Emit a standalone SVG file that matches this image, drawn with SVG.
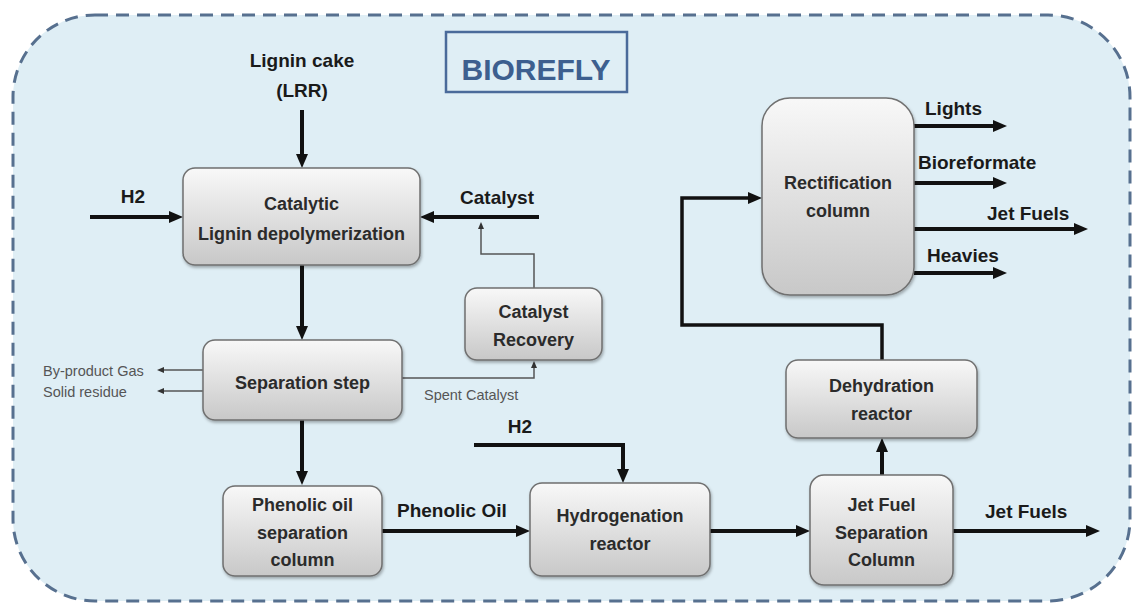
<svg xmlns="http://www.w3.org/2000/svg" width="1133" height="607" viewBox="0 0 1133 607">
  <defs>
    <linearGradient id="boxGrad" x1="0" y1="0" x2="0" y2="1">
      <stop offset="0" stop-color="#f8f8f8"/>
      <stop offset="1" stop-color="#c8c8c8"/>
    </linearGradient>
    <filter id="shadow" x="-10%" y="-10%" width="120%" height="130%">
      <feDropShadow dx="1" dy="2" stdDeviation="1.5" flood-color="#000" flood-opacity="0.3"/>
    </filter>
    <marker id="arrowThick" viewBox="0 0 14 12" markerUnits="userSpaceOnUse" markerWidth="14" markerHeight="12" refX="6" refY="6" orient="auto">
      <path d="M0,0 L14,6 L0,12 z" fill="#111"/>
    </marker>
    <marker id="arrowThin" viewBox="0 0 7 6" markerUnits="userSpaceOnUse" markerWidth="7" markerHeight="6" refX="3" refY="3" orient="auto">
      <path d="M0,0 L7,3 L0,6 z" fill="#333"/>
    </marker>
  </defs>
  <style>
    .box { fill: url(#boxGrad); stroke: #6f6f6f; stroke-width: 1.5; filter: url(#shadow); }
    .btxt { font-family: "Liberation Sans", Arial, sans-serif; font-weight: bold; font-size: 18px; fill: #2b2b2b; text-anchor: middle; }
    .lbl { font-family: "Liberation Sans", Arial, sans-serif; font-weight: bold; font-size: 19px; fill: #1a1a1a; }
    .small { font-family: "Liberation Sans", Arial, sans-serif; font-size: 14.5px; fill: #555; }
    .thick { fill: none; stroke: #111; stroke-width: 4; marker-end: url(#arrowThick); }
    .loop { fill: none; stroke: #111; stroke-width: 3.5; marker-end: url(#arrowThick); }
    .thin { fill: none; stroke: #555; stroke-width: 1.5; marker-end: url(#arrowThin); }
  </style>

  <rect x="0" y="0" width="1133" height="607" fill="#ffffff"/>
  <rect id="frame" x="13" y="15" width="1117" height="586" rx="82" ry="82" fill="#dfeef5" stroke="#57708f" stroke-width="3" stroke-dasharray="13 8"/>

  <g id="title">
    <rect x="446" y="32" width="181" height="60" fill="none" stroke="#4a6a9a" stroke-width="2.5"/>
    <text x="536" y="80" font-family="'Liberation Sans', Arial, sans-serif" font-weight="bold" font-size="30" fill="#3d5f8f" text-anchor="middle">BIOREFLY</text>
  </g>

  <g id="connectors">
    <path class="thick" d="M302,110 V160"/>
    <path class="thick" d="M90,217 H175"/>
    <path class="thick" d="M539,217 H428"/>
    <path class="thick" d="M302,265 V332"/>
    <path class="thick" d="M302,420 V477"/>
    <path class="thick" d="M382,531 H522"/>
    <path class="thick" d="M474,445 H623 V475"/>
    <path class="thick" d="M710,531 H802"/>
    <path class="thick" d="M953,531 H1092"/>
    <path class="thick" d="M882,475 V446"/>
    <path class="loop" d="M882,360 V325 H682 V198 H754"/>
    <path class="thick" d="M914,126 H999"/>
    <path class="thick" d="M914,183 H999"/>
    <path class="thick" d="M914,229 H1080"/>
    <path class="thick" d="M914,273 H999"/>
    <path class="thin" d="M203,370 H161"/>
    <path class="thin" d="M203,391 H161"/>
    <path class="thin" d="M402,378 H534 V365"/>
    <path class="thin" d="M534,288 V254 H481 V226"/>
  </g>

  <g id="labels">
    <text class="lbl" x="302" y="67" text-anchor="middle" font-size="18">Lignin cake</text>
    <text class="lbl" x="302" y="97" text-anchor="middle" font-size="18">(LRR)</text>
    <text class="lbl" x="133" y="203" text-anchor="middle">H2</text>
    <text class="lbl" x="497" y="204" text-anchor="middle">Catalyst</text>
    <text class="lbl" x="520" y="433" text-anchor="middle">H2</text>
    <text class="lbl" x="397" y="517" font-size="20">Phenolic Oil</text>
    <text class="lbl" x="985" y="518">Jet Fuels</text>
    <text class="lbl" x="925" y="115">Lights</text>
    <text class="lbl" x="918" y="169" font-size="20">Bioreformate</text>
    <text class="lbl" x="987" y="220">Jet Fuels</text>
    <text class="lbl" x="927" y="262">Heavies</text>
    <text class="small" x="43" y="376">By-product Gas</text>
    <text class="small" x="43" y="397">Solid residue</text>
    <text class="small" x="424" y="400" font-size="14" fill="#6a7a82">Spent Catalyst</text>
  </g>

  <g id="catalytic">
    <rect class="box" x="183" y="168" width="237" height="97" rx="12"/>
    <text class="btxt" x="301.5" y="210">Catalytic</text>
    <text class="btxt" x="301.5" y="240">Lignin depolymerization</text>
  </g>

  <g id="separation">
    <rect class="box" x="203" y="340" width="199" height="80" rx="12"/>
    <text class="btxt" x="302.5" y="389">Separation step</text>
  </g>

  <g id="catalyst-recovery">
    <rect class="box" x="465" y="288" width="137" height="72" rx="12"/>
    <text class="btxt" x="533.5" y="318">Catalyst</text>
    <text class="btxt" x="533.5" y="346">Recovery</text>
  </g>

  <g id="phenolic-column">
    <rect class="box" x="223" y="486" width="159" height="90" rx="12"/>
    <text class="btxt" x="302.5" y="511">Phenolic oil</text>
    <text class="btxt" x="302.5" y="539">separation</text>
    <text class="btxt" x="302.5" y="566">column</text>
  </g>

  <g id="hydrogenation">
    <rect class="box" x="530" y="483" width="180" height="93" rx="12"/>
    <text class="btxt" x="620" y="522">Hydrogenation</text>
    <text class="btxt" x="620" y="550">reactor</text>
  </g>

  <g id="jetfuel-column">
    <rect class="box" x="810" y="475" width="143" height="110" rx="14"/>
    <text class="btxt" x="881.5" y="511">Jet Fuel</text>
    <text class="btxt" x="881.5" y="539">Separation</text>
    <text class="btxt" x="881.5" y="566">Column</text>
  </g>

  <g id="dehydration">
    <rect class="box" x="786" y="360" width="191" height="78" rx="12"/>
    <text class="btxt" x="881.5" y="392">Dehydration</text>
    <text class="btxt" x="881.5" y="420">reactor</text>
  </g>

  <g id="rectification">
    <rect class="box" x="762" y="98" width="152" height="197" rx="28"/>
    <text class="btxt" x="838" y="189">Rectification</text>
    <text class="btxt" x="838" y="217">column</text>
  </g>
</svg>
